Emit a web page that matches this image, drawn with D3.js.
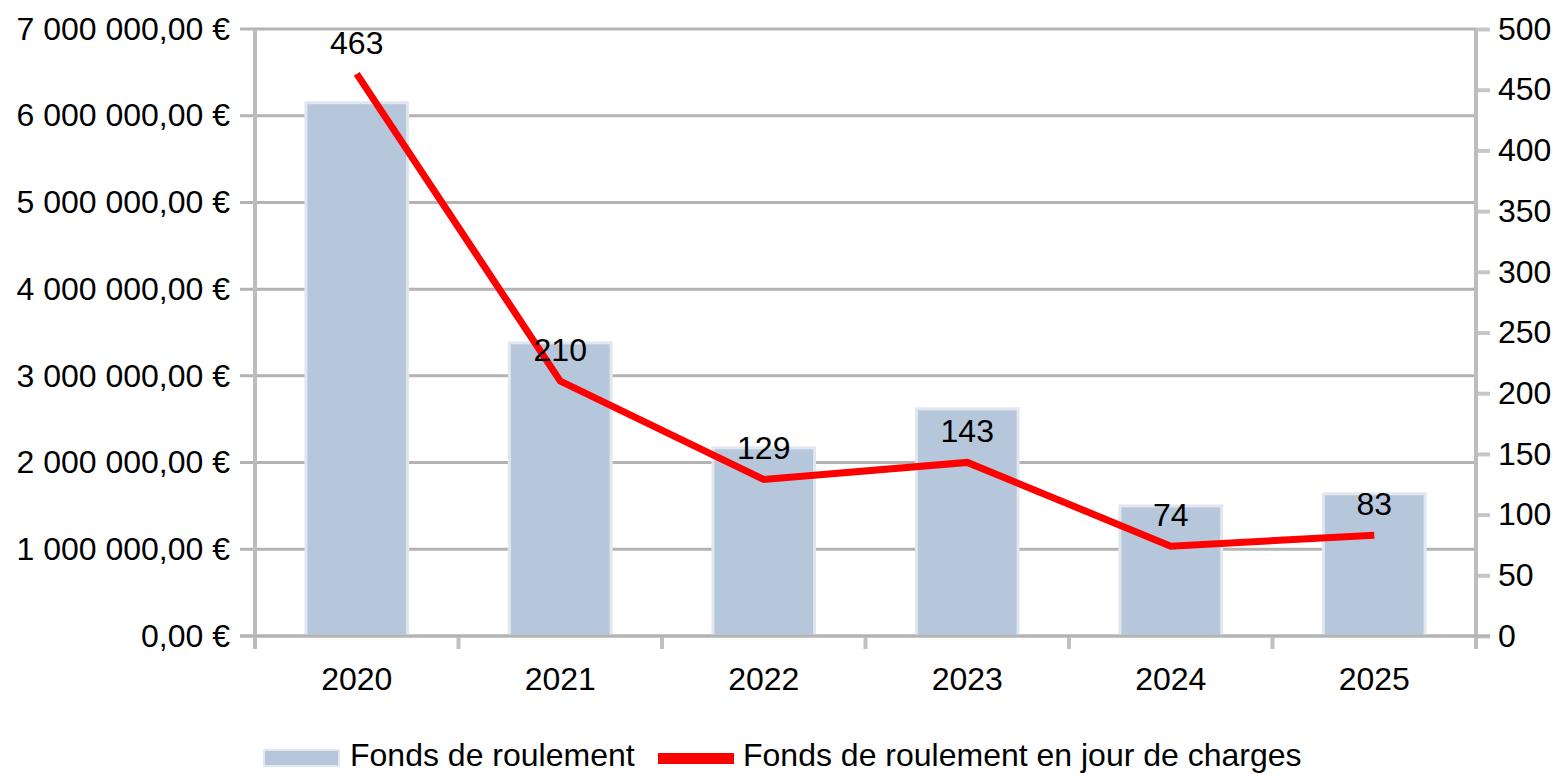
<!DOCTYPE html>
<html>
<head>
<meta charset="utf-8">
<script src="https://cdn.jsdelivr.net/npm/d3@7"></script>
<style>
  html, body { margin: 0; padding: 0; background: #fff; }
  svg { display: block; font-family: "Liberation Sans", Arial, sans-serif; }
</style>
</head>
<body>
<svg id="chart" width="1554" height="774"></svg>
<script>
const categories = ["2020", "2021", "2022", "2023", "2024", "2025"];
const fondsRoulement = [6150000, 3380000, 2170000, 2620000, 1500000, 1640000];
const joursCharges = [463, 210, 129, 143, 74, 83];
const leftTicks = [0, 1000000, 2000000, 3000000, 4000000, 5000000, 6000000, 7000000];
const rightTicks = [0, 50, 100, 150, 200, 250, 300, 350, 400, 450, 500];
const seriesNames = ["Fonds de roulement", "Fonds de roulement en jour de charges"];

const svg = d3.select("#chart");
const m = { left: 255, right: 1476, top: 29, bottom: 636 };
const gridColor = "#b3b3b3";
const fontSize = 32;
const ff = "Liberation Sans, Arial, sans-serif";

const x = d3.scaleBand().domain(categories).range([m.left, m.right]).paddingInner(0.5).paddingOuter(0.25);
const xb = d3.scaleBand().domain(categories).range([m.left, m.right]);
const yL = d3.scaleLinear().domain([0, 7000000]).range([m.bottom, m.top]);
const yR = d3.scaleLinear().domain([0, 500]).range([m.bottom, m.top]);

const loc = d3.formatLocale({ decimal: ",", thousands: " ", grouping: [3], currency: ["", " €"] });
const fmt = loc.format("$,.2f");

// gridlines
svg.append("g").selectAll("line").data(leftTicks).join("line")
  .attr("x1", m.left - 15).attr("x2", m.right)
  .attr("y1", d => yL(d)).attr("y2", d => yL(d))
  .attr("stroke", gridColor).attr("stroke-width", 3);

// left axis
const axL = svg.append("g").attr("transform", `translate(${m.left},0)`)
  .call(d3.axisLeft(yL).tickValues(leftTicks).tickFormat(fmt).tickSize(0).tickPadding(25));
axL.select(".domain").remove();
axL.selectAll("text").attr("font-size", fontSize).attr("fill", "#000").attr("font-family", ff);

// right axis
const axR = svg.append("g").attr("transform", `translate(${m.right},0)`)
  .call(d3.axisRight(yR).tickValues(rightTicks).tickSize(14).tickPadding(8));
axR.select(".domain").remove();
axR.selectAll("line").attr("stroke", "#c6c6c6").attr("stroke-width", 4);
axR.selectAll("text").attr("font-size", fontSize).attr("fill", "#000").attr("font-family", ff);

// bottom axis ticks (category boundaries)
const bounds = categories.map(c => xb(c)).concat([m.right]);
svg.append("g").selectAll("line").data(bounds).join("line")
  .attr("x1", d => d).attr("x2", d => d)
  .attr("y1", m.bottom).attr("y2", m.bottom + 13)
  .attr("stroke", "#c0c0c0").attr("stroke-width", 4);

// bars
svg.append("g").selectAll("rect").data(categories).join("rect")
  .attr("x", c => x(c))
  .attr("width", x.bandwidth())
  .attr("y", (c, i) => yL(fondsRoulement[i]))
  .attr("height", (c, i) => yL(0) - yL(fondsRoulement[i]))
  .attr("fill", "#b6c7dc")
  .attr("stroke", "#e1e7ef").attr("stroke-width", 3);

// vertical axis lines
svg.append("line").attr("x1", m.left).attr("x2", m.left).attr("y1", m.top).attr("y2", m.bottom + 13)
  .attr("stroke", "#bdbdbd").attr("stroke-width", 4);
svg.append("line").attr("x1", m.right).attr("x2", m.right).attr("y1", m.top).attr("y2", m.bottom + 13)
  .attr("stroke", "#bdbdbd").attr("stroke-width", 4);
// bottom axis line
svg.append("line").attr("x1", m.left - 15).attr("x2", m.right + 14).attr("y1", m.bottom).attr("y2", m.bottom)
  .attr("stroke", gridColor).attr("stroke-width", 3);

// category labels
svg.append("g").selectAll("text").data(categories).join("text")
  .attr("x", c => xb(c) + xb.bandwidth() / 2)
  .attr("y", 690)
  .attr("text-anchor", "middle")
  .attr("font-size", fontSize)
  .text(c => c);

// line
const pts = categories.map((c, i) => [xb(c) + xb.bandwidth() / 2, yR(joursCharges[i])]);
svg.append("path").datum(pts)
  .attr("d", d3.line())
  .attr("fill", "none").attr("stroke", "#ff0000").attr("stroke-width", 7)
  .attr("stroke-linejoin", "miter");

// data labels
svg.append("g").selectAll("text").data(categories).join("text")
  .attr("x", (c, i) => pts[i][0])
  .attr("y", (c, i) => pts[i][1] - 20)
  .attr("text-anchor", "middle")
  .attr("font-size", fontSize)
  .text((c, i) => joursCharges[i]);

// legend
const lg = svg.append("g");
lg.append("rect").attr("x", 264).attr("y", 750).attr("width", 75).attr("height", 16)
  .attr("fill", "#b6c7dc").attr("stroke", "#e1e7ef").attr("stroke-width", 2);
lg.append("text").attr("x", 350).attr("y", 766).attr("font-size", fontSize).text(seriesNames[0]);
lg.append("rect").attr("x", 658).attr("y", 753).attr("width", 76).attr("height", 11).attr("fill", "#ff0000");
lg.append("text").attr("x", 743).attr("y", 766).attr("font-size", fontSize).text(seriesNames[1]);
</script>
</body>
</html>
